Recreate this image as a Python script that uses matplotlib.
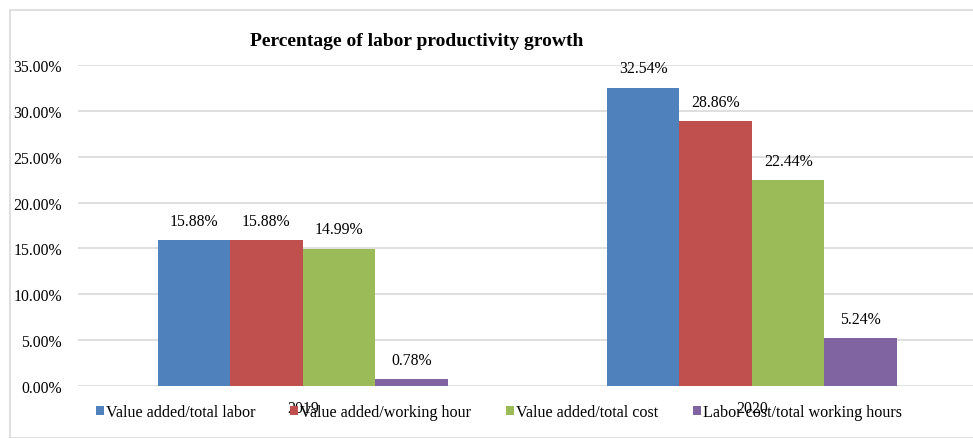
import matplotlib.pyplot as plt
from matplotlib.patches import Rectangle
import numpy as np

years = ["2019", "2020"]
series_names = [
    "Value added/total labor",
    "Value added/working hour",
    "Value added/total cost",
    "Labor cost/total working hours",
]
values = {
    "Value added/total labor": [15.88, 32.54],
    "Value added/working hour": [15.88, 28.86],
    "Value added/total cost": [14.99, 22.44],
    "Labor cost/total working hours": [0.78, 5.24],
}
colors = ["#4F81BD", "#C0504D", "#9BBB59", "#8064A2"]
y_ticks = [0, 5, 10, 15, 20, 25, 30, 35]

plt.rcParams["font.family"] = ["Liberation Serif", "DejaVu Serif"]

W, H = 973, 439
fig = plt.figure(figsize=(W / 100, H / 100), dpi=100)

# outer chart border
fig.patches.append(Rectangle((10 / W, 0), 1.2, (H - 11) / H, transform=fig.transFigure,
                             fill=False, edgecolor="#D9D9D9", linewidth=1.2, zorder=0))

ax = fig.add_axes([78 / W, (H - 387) / H, 898.5 / W, (387 - 66) / H])

x = np.arange(len(years))
bw = 0.1615
for i, name in enumerate(series_names):
    pos = x + (i - 1.5) * bw
    bars = ax.bar(pos, values[name], width=bw, color=colors[i], label=name, zorder=3)
    for b, v in zip(bars, values[name]):
        ax.annotate(f"{v:.2f}%", (b.get_x() + b.get_width() / 2, v),
                    xytext=(0, 8), textcoords="offset points",
                    ha="center", va="bottom", fontsize=11.3)

ax.set_xlim(-0.5, 1.5)
ax.set_ylim(0, 35)
ax.set_yticks(y_ticks)
ax.set_yticklabels([f"{t:.2f}%" for t in y_ticks], fontsize=11.3)
ax.set_xticks(x)
ax.set_xticklabels(years, fontsize=11.3)
ax.tick_params(axis="both", length=0)
ax.tick_params(axis="y", pad=11.5)
ax.tick_params(axis="x", pad=10)
ax.grid(axis="y", color="#D9D9D9", linewidth=1.2, zorder=0)
for s in ax.spines.values():
    s.set_visible(False)

fig.text(417 / W, 1 - 42 / H, "Percentage of labor productivity growth",
         ha="center", va="center", fontsize=14, fontweight="bold")

fig.legend(loc="center left", bbox_to_anchor=(96 / W, 1 - 413 / H), ncol=4,
           frameon=False, fontsize=11.6, handlelength=0.47, handleheight=0.47,
           handletextpad=0.15, columnspacing=2.17, borderpad=0, borderaxespad=0)

fig.savefig("out.png", dpi=100)
